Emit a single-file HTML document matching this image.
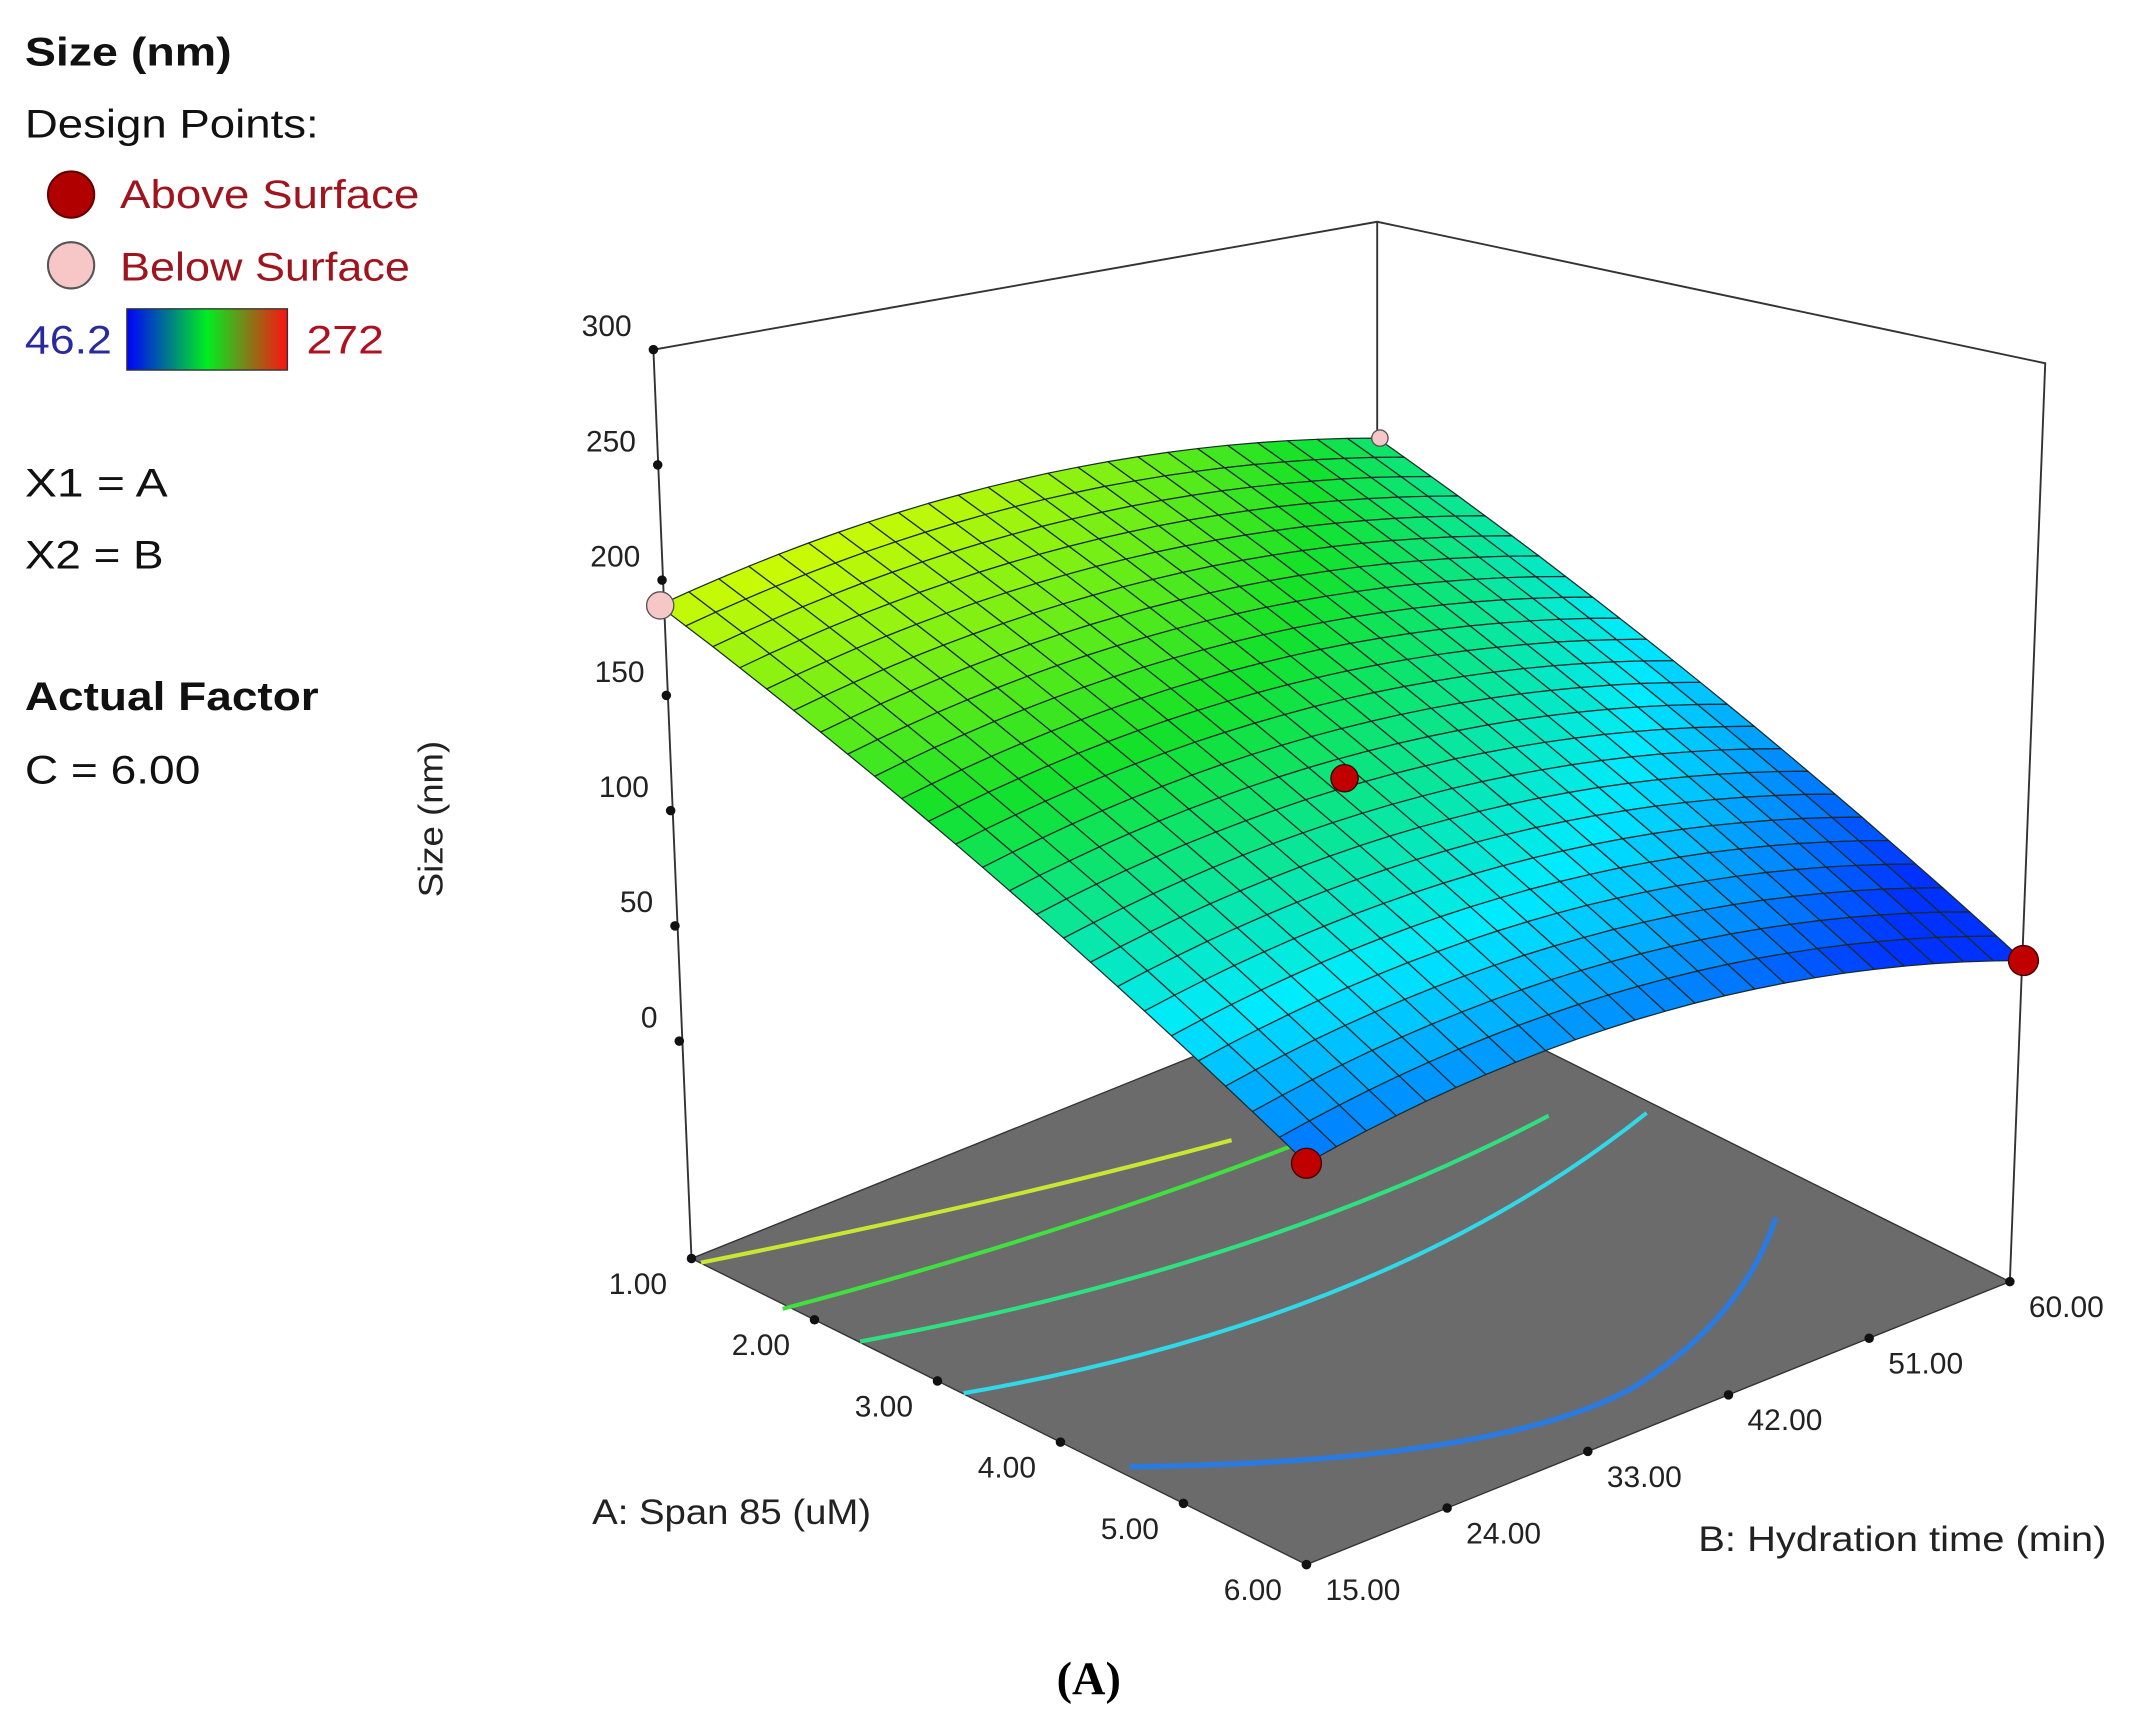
<!DOCTYPE html>
<html><head><meta charset="utf-8">
<style>
html,body{margin:0;padding:0;background:#fff;}
svg{display:block;}
text{font-family:"Liberation Sans",sans-serif;}
</style></head>
<body>
<svg id="s" width="2134" height="1717" viewBox="0 0 1568 1262" xmlns="http://www.w3.org/2000/svg">
<defs>
<linearGradient id="cb" x1="0" x2="1" y1="0" y2="0">
<stop offset="0" stop-color="#0000ff"/><stop offset="0.5" stop-color="#00ee20"/><stop offset="1" stop-color="#ff1010"/>
</linearGradient>
</defs>
<rect width="1568" height="1262" fill="#fff"/>
<text x="18" y="48" font-size="29" font-weight="bold" fill="#111" textLength="152" lengthAdjust="spacingAndGlyphs">Size (nm)</text>
<text x="18" y="101" font-size="29" fill="#111" textLength="216" lengthAdjust="spacingAndGlyphs">Design Points:</text>
<circle cx="52" cy="143" r="17" fill="#b00000" stroke="#600" stroke-width="1.5"/>
<text x="88" y="153" font-size="29" fill="#a0141e" textLength="220" lengthAdjust="spacingAndGlyphs">Above Surface</text>
<circle cx="52" cy="195" r="17" fill="#f7c6c6" stroke="#555" stroke-width="1.5"/>
<text x="88" y="206" font-size="29" fill="#a0141e" textLength="213" lengthAdjust="spacingAndGlyphs">Below Surface</text>
<text x="18" y="260" font-size="29" fill="#2a2aa0" textLength="64" lengthAdjust="spacingAndGlyphs">46.2</text>
<rect x="93" y="227" width="118" height="45" fill="url(#cb)" stroke="#333" stroke-width="1"/>
<text x="225" y="260" font-size="29" fill="#b01020" textLength="57" lengthAdjust="spacingAndGlyphs">272</text>
<text x="18" y="365" font-size="29" fill="#111" textLength="105" lengthAdjust="spacingAndGlyphs">X1 = A</text>
<text x="18" y="418" font-size="29" fill="#111" textLength="102" lengthAdjust="spacingAndGlyphs">X2 = B</text>
<text x="18" y="522" font-size="29" font-weight="bold" fill="#111" textLength="216" lengthAdjust="spacingAndGlyphs">Actual Factor</text>
<text x="18" y="576" font-size="29" fill="#111" textLength="129" lengthAdjust="spacingAndGlyphs">C = 6.00</text>

<g stroke="#333" stroke-width="1.4" fill="none">
<polyline points="480,257 1012,163 1503,267 1477,942"/>
<line x1="1012" y1="163" x2="1012" y2="330"/>
<line x1="480" y1="257" x2="508" y2="925"/>
</g>
<polygon points="508,925 960,1150 1477,942 1025,717" fill="#6b6b6b" stroke="#333" stroke-width="1"/>
<g fill="none" stroke-width="3">
<path d="M515,928 Q730,885 905,838" stroke="#c8e632"/>
<path d="M575,962 Q790,905 960,838" stroke="#40e040"/>
<path d="M632,986 Q930,930 1138,820" stroke="#30e080"/>
<path d="M708,1024 Q1020,970 1210,818" stroke="#30d8e8"/>
<path d="M830,1078 Q1100,1075 1200,1020 Q1280,970 1305,895" stroke="#2a7ae0" stroke-width="4"/>
</g>
<g id="zt"></g>
<g id="surf"></g>
<circle cx="988" cy="572" r="10" fill="#c00000" stroke="#400" stroke-width="1"/>
<circle cx="960" cy="855" r="11" fill="#c00000" stroke="#400" stroke-width="1"/>
<circle cx="1487" cy="706" r="11" fill="#c00000" stroke="#400" stroke-width="1"/>
<circle cx="485" cy="445" r="10" fill="#f7c6c6" stroke="#555" stroke-width="1"/>
<circle cx="1014" cy="322" r="6" fill="#f7c6c6" stroke="#555" stroke-width="1"/>
<g id="ft"></g>
<text transform="translate(325,602) rotate(-90)" text-anchor="middle" font-size="25" fill="#222" textLength="115" lengthAdjust="spacingAndGlyphs">Size (nm)</text>
<text x="435" y="1120" font-size="26" fill="#222" textLength="205" lengthAdjust="spacingAndGlyphs">A: Span 85 (uM)</text>
<text x="1248" y="1140" font-size="26" fill="#222" textLength="300" lengthAdjust="spacingAndGlyphs">B: Hydration time (min)</text>
<text x="800" y="1245" text-anchor="middle" font-size="34" font-weight="bold" style="font-family:'Liberation Serif',serif">(A)</text>
</svg>
<script>
var NS="http://www.w3.org/2000/svg";
function el(t,a,p){var e=document.createElementNS(NS,t);for(var k in a)e.setAttribute(k,a[k]);p.appendChild(e);return e;}
var L=[508,925],F=[960,1150],R=[1477,942];
function fl(u,v){return [L[0]+u*(F[0]-L[0])+v*(R[0]-F[0]), L[1]+u*(F[1]-L[1])+v*(R[1]-F[1])];}
function h0(v){return 480+38*v-123*v*v;}
function h1(v){return 295+90*v-149*v*v;}
function h(u,v){return (1-u)*h0(v)+u*h1(v)+50*u*(1-u);}
function P(u,v){var p=fl(u,v);var dx=-24*(1-u)*(1-v)-13*(1-u)*v+10*u*v;return [p[0]+dx,p[1]-h(u,v)];}
function cmap(t){t=Math.max(0,Math.min(1,t));var st=[[0,0,50,255],[0.25,0,235,255],[0.5,20,225,40],[0.75,235,255,0],[1,255,0,0]];
for(var i=0;i<4;i++){if(t<=st[i+1][0]){var a=st[i],b=st[i+1],f=(t-a[0])/(b[0]-a[0]);return "rgb("+[1,2,3].map(function(k){return Math.round(a[k]+f*(b[k]-a[k]))}).join(",")+")";}}return "rgb(255,0,0)";}
var g=document.getElementById("surf"),N=24;
var cells=[];
for(var i=0;i<N;i++)for(var j=0;j<N;j++)cells.push([i,j]);
cells.sort(function(a,b){return (a[0]-a[1])-(b[0]-b[1]);});
cells.forEach(function(c){var u0=c[0]/N,u1=(c[0]+1)/N,v0=c[1]/N,v1=(c[1]+1)/N;
var pts=[P(u0,v0),P(u1,v0),P(u1,v1),P(u0,v1)];
var hh=h((u0+u1)/2,(v0+v1)/2);var t=0.08+(hh-295)*0.0034;
el("polygon",{points:pts.map(function(p){return p[0].toFixed(1)+","+p[1].toFixed(1)}).join(" "),fill:cmap(t),stroke:"#1a2a2a","stroke-width":"0.9","stroke-linejoin":"round"},g);});
var zt=document.getElementById("zt");
var zl=["300","250","200","150","100","50","0"];
for(var k=0;k<7;k++){var x=480+k*3.17,y=257+k*84.7;el("circle",{cx:x,cy:y,r:3.5,fill:"#111"},zt);
var t=el("text",{x:x-16,y:y-10,"text-anchor":"end","font-size":"22",fill:"#222"},zt);t.textContent=zl[k];}
var ft=document.getElementById("ft");
var al=["1.00","2.00","3.00","4.00","5.00","6.00"],bl=["15.00","24.00","33.00","42.00","51.00","60.00"];
for(var k=0;k<6;k++){var p=fl(k/5,0);el("circle",{cx:p[0],cy:p[1],r:3.5,fill:"#111"},ft);
var t=el("text",{x:p[0]-18,y:p[1]+26,"text-anchor":"end","font-size":"22",fill:"#222"},ft);t.textContent=al[k];
var q=fl(1,k/5);el("circle",{cx:q[0],cy:q[1],r:3.5,fill:"#111"},ft);
var t2=el("text",{x:q[0]+14,y:q[1]+26,"font-size":"22",fill:"#222"},ft);t2.textContent=bl[k];}
</script>
</body></html>
